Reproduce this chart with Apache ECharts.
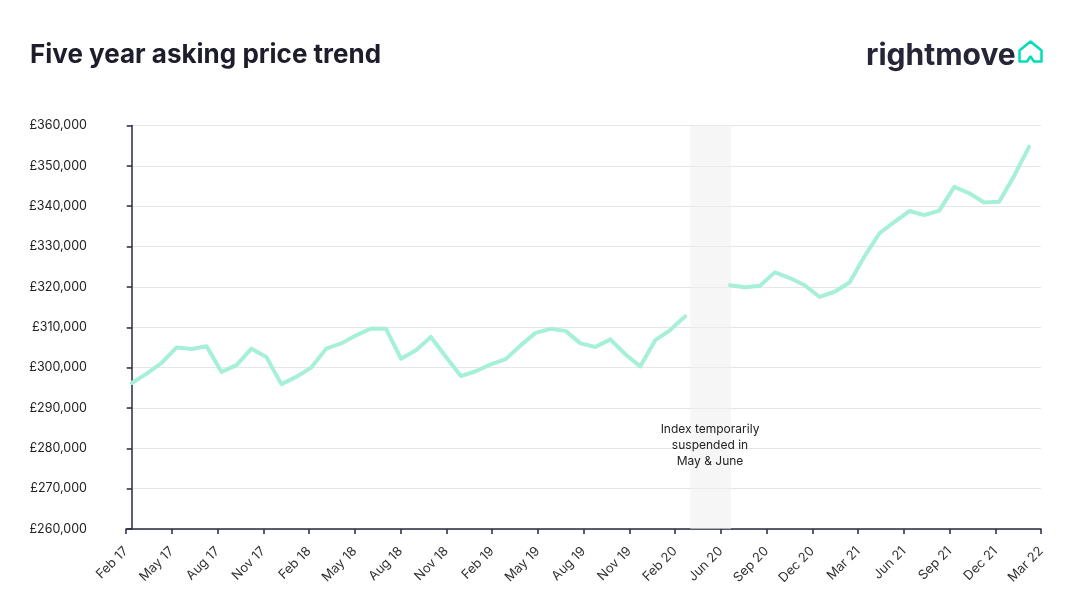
<!DOCTYPE html>
<html>
<head>
<meta charset="utf-8">
<script src="https://cdn.jsdelivr.net/npm/echarts@6/dist/echarts.min.js"></script>
<style>
  html, body { margin: 0; padding: 0; background: #fff; }
  #chart { width: 1080px; height: 605px; }
</style>
</head>
<body>
<div id="chart"></div>
<script>
// tick labels on the date axis (every third month)
var xLabels = ['Feb 17', 'May 17', 'Aug 17', 'Nov 17', 'Feb 18', 'May 18', 'Aug 18', 'Nov 18',
  'Feb 19', 'May 19', 'Aug 19', 'Nov 19', 'Feb 20', 'Jun 20', 'Sep 20', 'Dec 20',
  'Mar 21', 'Jun 21', 'Sep 21', 'Dec 21', 'Mar 22'];

// monthly average asking price, Feb 17 .. Feb 22 (null = index suspended)
var prices = [
  296200, 298500, 301200, 305000, 304600, 305300, 298900, 300600, 304700, 302600,
  295900, 297700, 300000, 304700, 306000, 308000, 309700, 309600, 302200, 304300,
  307600, 302700, 297900, 299100, 300800, 302100, 305500, 308600, 309600, 309100,
  306000, 305100, 307000, 303300, 300300, 306800, 309300, 312700, null, null,
  320400, 319900, 320300, 323600, 322200, 320400, 317500, 318800, 321100, 327600,
  333300, 336100, 338800, 337800, 338900, 344800, 343200, 340900, 341100, 347500,
  354700
];

var yMin = 260000, yMax = 360000, yStep = 10000;

var font = 'Inter, "Noto Sans", sans-serif';
var axisColor = '#252b3b';

function drawChart() {
  var myChart = echarts.init(document.getElementById('chart'));
  var lineData = prices.map(function (v, i) { return [i, v]; });

  var option = {
    backgroundColor: '#fff',
    animation: false,
    title: {
      text: 'Five year asking price trend',
      left: 25,
      top: 37,
      textStyle: { fontFamily: font, fontSize: 26, fontWeight: 'bold', color: '#1d1d2b' }
    },
    grid: { left: 126, right: 39, top: 125.5, bottom: 76 },
    xAxis: [
      {
        type: 'category',
        data: xLabels,
        boundaryGap: false,
        axisLine: { lineStyle: { color: axisColor, width: 1.5 } },
        axisTick: { show: true, length: 5, lineStyle: { color: axisColor, width: 1.5 } },
        axisLabel: { interval: 0, rotate: 45, margin: 20, fontFamily: font, fontSize: 13, color: '#333' },
        splitLine: { show: false }
      },
      {
        // month index scale used by the line
        type: 'value',
        show: false,
        min: -0.39,
        max: 60.8
      }
    ],
    yAxis: {
      type: 'value',
      min: yMin,
      max: yMax,
      interval: yStep,
      axisLine: { show: true, lineStyle: { color: axisColor, width: 1.5 } },
      axisTick: { show: true, length: 5, lineStyle: { color: axisColor, width: 1.5 } },
      axisLabel: {
        margin: 39,
        fontFamily: font,
        fontSize: 12.5,
        color: '#222',
        formatter: function (v) { return '£' + v.toLocaleString('en-GB'); }
      },
      splitLine: { lineStyle: { color: '#e6e6e6', width: 1 } }
    },
    series: [
      {
        type: 'line',
        xAxisIndex: 1,
        data: lineData,
        symbol: 'none',
        connectNulls: false,
        lineStyle: { color: '#a6f0da', width: 4, cap: 'round', join: 'round' },
        z: 3,
        markArea: {
          silent: true,
          itemStyle: { color: 'rgba(238,238,238,0.55)' },
          data: [[{ xAxis: 37.35 }, { xAxis: 40.07 }]]
        }
      }
    ],
    graphic: [
      {
        type: 'text',
        x: 710,
        y: 421,
        z: 100,
        style: {
          text: 'Index temporarily\nsuspended in\nMay & June',
          textAlign: 'center',
          fontFamily: font,
          fontSize: 12,
          lineHeight: 16,
          fill: '#222'
        }
      },
      {
        type: 'text',
        x: 866,
        y: 41,
        style: {
          text: 'rightmove',
          fontFamily: font,
          fontSize: 30,
          fontWeight: 'bold',
          fill: '#262637'
        }
      },
      {
        type: 'polygon',
        shape: {
          points: [[1019.5, 61.5], [1019.5, 50.5], [1030.5, 41.5], [1041.5, 50.5], [1041.5, 61.5],
            [1034, 61.5], [1030.5, 56.5], [1027, 61.5]]
        },
        style: { fill: 'none', stroke: '#00deb6', lineWidth: 2.5, lineJoin: 'round' }
      }
    ]
  };
  myChart.setOption(option);
}

window.addEventListener('load', drawChart);
</script>
</body>
</html>
